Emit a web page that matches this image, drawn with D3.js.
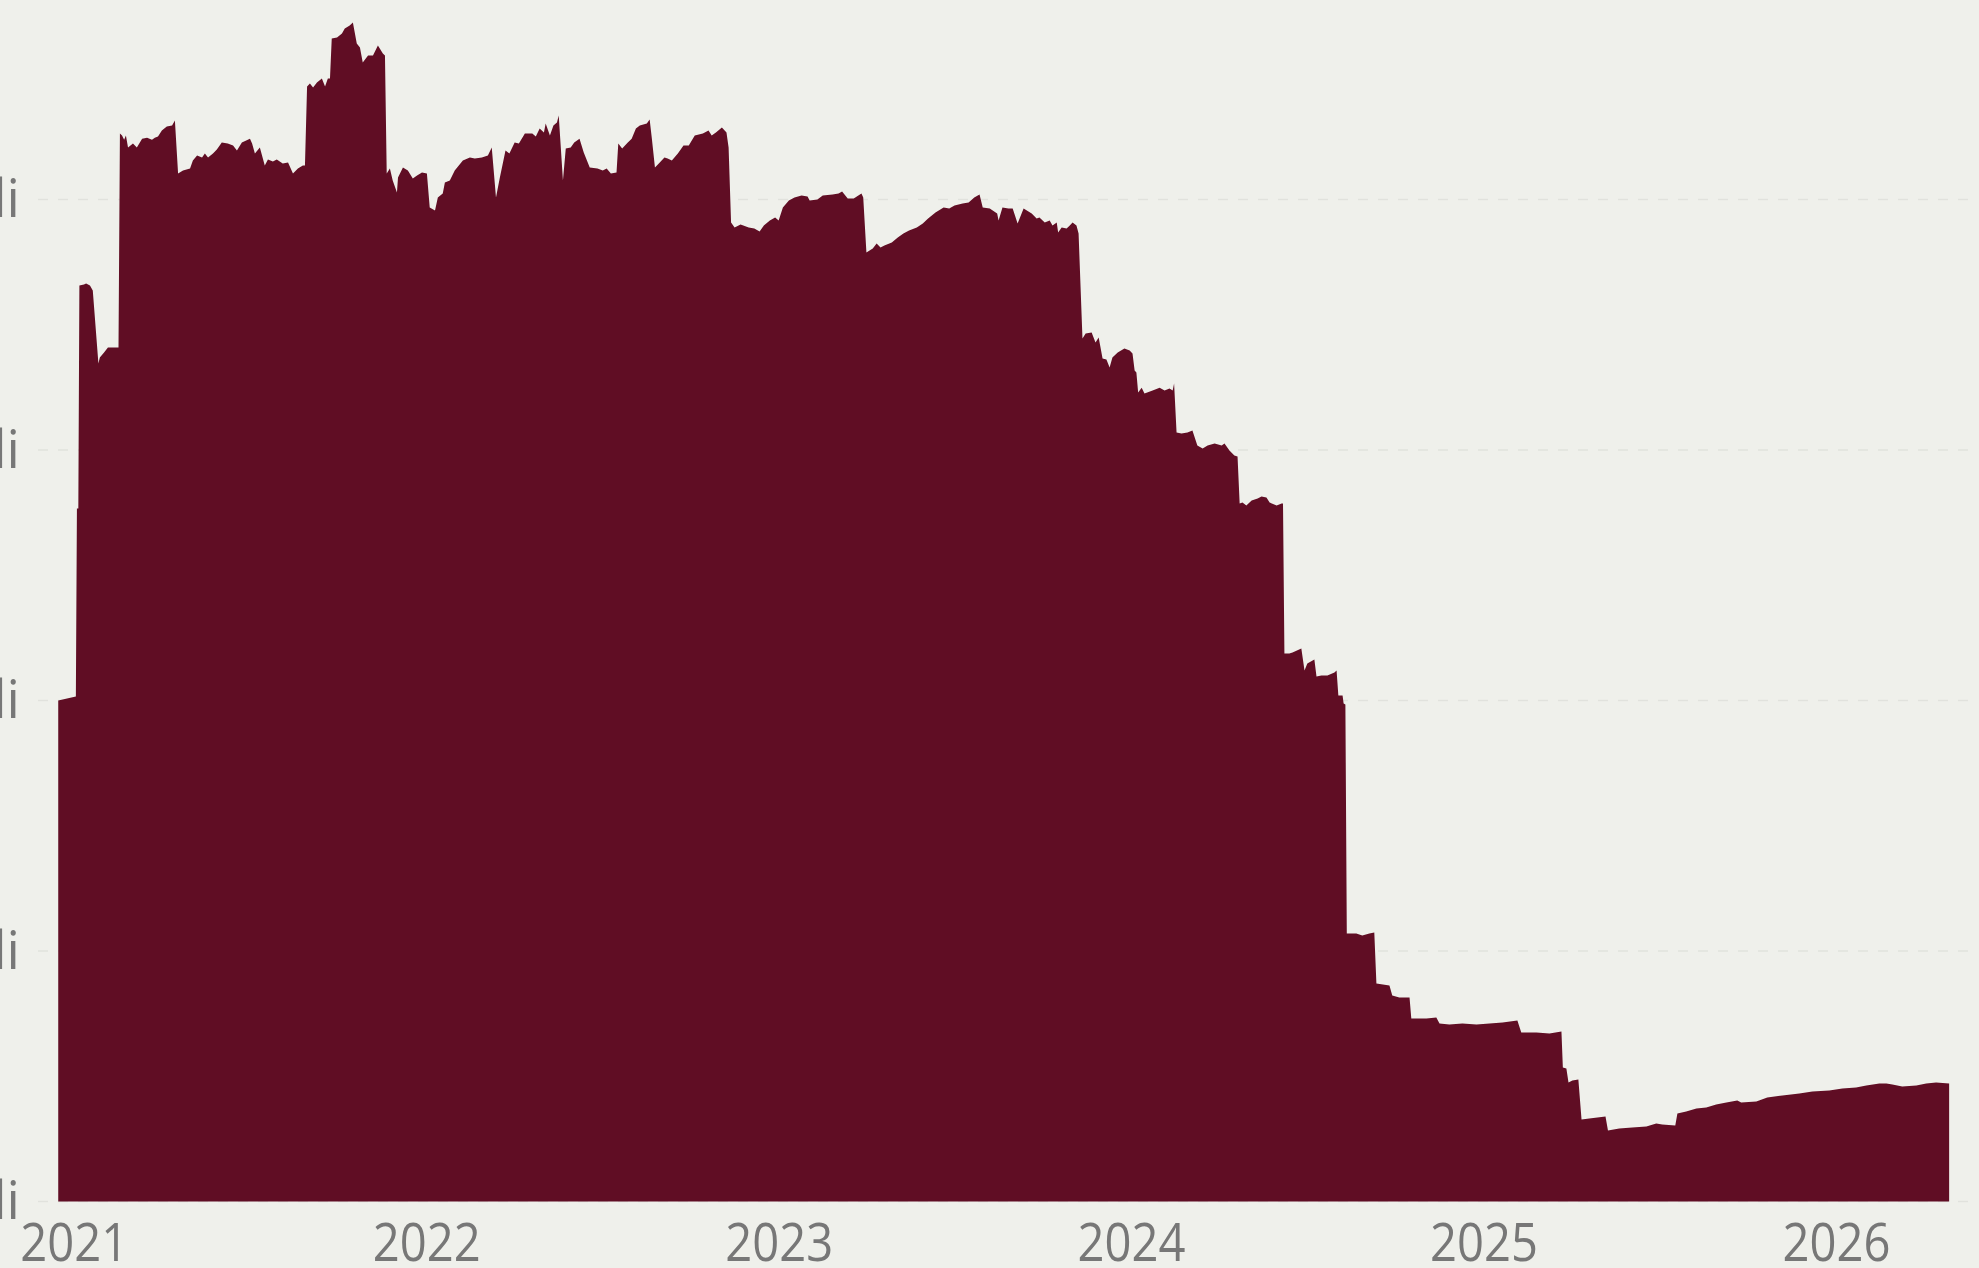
<!DOCTYPE html>
<html>
<head>
<meta charset="utf-8">
<script src="https://cdn.jsdelivr.net/npm/d3@7"></script>
<style>
  html, body { margin: 0; padding: 0; background: #eff0eb; }
  svg { display: block; }
</style>
</head>
<body>
<svg id="chart" width="1979" height="1268"></svg>
<script>
// ---- data (decimal years, values) ----
const dates = [
2020.956,2021.006,2021.009,2021.013,2021.016,2021.029,2021.035,2021.046,2021.054,2021.070,
2021.074,2021.086,2021.097,2021.127,2021.131,2021.137,2021.143,2021.148,2021.154,2021.168,
2021.179,2021.194,2021.208,2021.222,2021.230,2021.239,2021.250,2021.264,2021.279,2021.287,
2021.296,2021.310,2021.330,2021.338,2021.350,2021.364,2021.372,2021.381,2021.395,2021.406,
2021.420,2021.437,2021.452,2021.463,2021.477,2021.500,2021.506,2021.514,2021.528,2021.542,
2021.551,2021.565,2021.576,2021.593,2021.608,2021.622,2021.636,2021.650,2021.656,2021.662,
2021.670,2021.679,2021.690,2021.704,2021.713,2021.721,2021.727,2021.732,2021.747,2021.761,
2021.769,2021.783,2021.792,2021.803,2021.812,2021.820,2021.835,2021.849,2021.863,2021.877,
2021.883,2021.888,2021.897,2021.905,2021.917,2021.920,2021.934,2021.948,2021.962,2021.974,
2021.988,2022.002,2022.010,2022.025,2022.033,2022.047,2022.053,2022.067,2022.081,2022.104,
2022.124,2022.138,2022.158,2022.175,2022.186,2022.198,2022.209,2022.225,2022.236,2022.251,
2022.263,2022.280,2022.301,2022.311,2022.322,2022.334,2022.339,2022.351,2022.361,2022.371,
2022.376,2022.388,2022.396,2022.410,2022.420,2022.435,2022.447,2022.464,2022.486,2022.501,
2022.512,2022.524,2022.540,2022.545,2022.556,2022.572,2022.583,2022.595,2022.606,2022.626,
2022.634,2022.640,2022.649,2022.660,2022.676,2022.685,2022.697,2022.714,2022.730,2022.745,
2022.762,2022.785,2022.801,2022.810,2022.822,2022.839,2022.852,2022.858,2022.865,2022.875,
2022.892,2022.915,2022.931,2022.946,2022.958,2022.975,2022.990,2023.000,2023.012,2023.029,
2023.045,2023.065,2023.082,2023.088,2023.110,2023.125,2023.153,2023.170,2023.180,2023.196,
2023.213,2023.235,2023.240,2023.249,2023.267,2023.278,2023.289,2023.300,2023.321,2023.338,
2023.354,2023.370,2023.392,2023.409,2023.424,2023.445,2023.468,2023.484,2023.499,2023.522,
2023.539,2023.555,2023.570,2023.579,2023.599,2023.620,2023.624,2023.635,2023.652,2023.664,
2023.678,2023.695,2023.718,2023.732,2023.740,2023.755,2023.769,2023.777,2023.789,2023.793,
2023.803,2023.817,2023.826,2023.834,2023.845,2023.851,2023.862,2023.871,2023.888,2023.899,
2023.908,2023.919,2023.930,2023.939,2023.947,2023.962,2023.981,2023.996,2024.004,2024.010,
2024.015,2024.020,2024.030,2024.038,2024.061,2024.081,2024.095,2024.109,2024.118,2024.122,
2024.129,2024.143,2024.160,2024.174,2024.188,2024.203,2024.217,2024.237,2024.257,2024.265,
2024.279,2024.293,2024.302,2024.308,2024.316,2024.327,2024.342,2024.359,2024.370,2024.384,
2024.393,2024.413,2024.427,2024.431,2024.435,2024.449,2024.458,2024.483,2024.492,2024.500,
2024.520,2024.526,2024.540,2024.557,2024.577,2024.583,2024.588,2024.600,2024.603,2024.608,
2024.612,2024.639,2024.656,2024.676,2024.690,2024.696,2024.733,2024.741,2024.761,2024.790,
2024.795,2024.838,2024.866,2024.875,2024.903,2024.940,2024.980,2025.017,2025.054,2025.096,
2025.107,2025.150,2025.187,2025.221,2025.225,2025.235,2025.241,2025.252,2025.269,2025.278,
2025.300,2025.346,2025.353,2025.385,2025.422,2025.462,2025.490,2025.507,2025.544,2025.550,
2025.575,2025.604,2025.632,2025.660,2025.689,2025.720,2025.731,2025.774,2025.805,2025.848,
2025.896,2025.933,2025.981,2026.018,2026.057,2026.086,2026.123,2026.143,2026.160,2026.188,
2026.228,2026.256,2026.284,2026.321
];
const values = [
200.0,201.6,276.6,276.6,365.7,366.1,366.5,365.7,363.7,334.5,
336.9,338.9,340.9,340.9,426.3,425.5,423.9,425.5,420.8,422.4,
420.8,424.3,424.7,423.9,424.7,425.1,427.5,429.1,429.5,431.5,
410.4,411.6,412.4,415.6,417.6,416.8,418.4,416.8,418.4,420.0,
422.8,422.4,421.6,419.6,422.8,424.3,422.4,418.4,420.8,413.6,
416.0,415.2,416.0,414.4,414.8,410.4,412.4,413.6,413.6,445.1,
446.3,444.7,446.7,448.3,445.1,448.3,448.3,464.3,464.7,466.3,
468.3,469.5,470.7,462.3,460.7,454.7,457.5,457.5,461.5,458.3,
457.5,410.4,412.4,407.6,402.8,408.8,412.8,411.6,408.4,409.6,
410.8,410.4,396.8,395.6,400.8,402.4,406.8,407.6,411.6,415.6,
416.8,416.4,416.8,417.6,420.8,400.8,408.8,419.6,418.4,422.8,
422.4,426.3,426.3,425.1,428.3,426.7,430.3,425.5,429.5,430.7,
433.5,407.6,420.4,420.8,422.8,424.3,418.8,412.8,412.4,411.6,
412.4,410.4,410.8,422.4,420.4,422.8,424.3,428.3,429.5,430.3,
431.9,424.7,412.8,414.4,416.8,416.4,415.6,418.4,421.6,421.6,
425.5,426.3,427.5,425.5,426.7,428.7,426.7,420.8,390.8,388.8,
390.0,388.8,388.4,387.2,389.6,391.6,392.8,391.6,396.8,399.6,
400.8,401.6,401.2,399.6,400.0,401.6,402.0,402.4,403.2,400.4,
400.4,402.4,400.8,378.8,380.4,382.4,380.8,381.6,382.8,384.8,
386.4,387.6,388.8,390.4,392.4,394.8,396.8,396.4,397.6,398.4,
398.8,400.8,402.0,396.8,396.4,394.4,391.6,396.8,396.4,396.4,
390.4,396.4,394.4,392.4,392.8,390.8,391.6,389.6,390.8,386.8,
388.8,388.4,389.6,390.8,389.6,386.4,344.5,346.5,346.9,342.9,
344.9,336.5,336.1,332.9,336.9,338.9,340.5,339.7,338.5,331.7,
330.9,323.0,324.9,322.6,323.8,324.9,323.8,324.6,323.8,326.5,
307.0,306.6,307.0,307.8,301.8,300.6,301.8,302.6,301.8,302.6,
299.8,297.8,297.4,278.6,279.0,277.8,279.8,280.6,281.4,281.0,
279.0,277.8,278.6,278.6,218.8,218.8,219.2,220.8,212.0,214.8,
216.4,209.6,210.0,210.0,211.2,212.0,202.0,202.0,198.8,198.4,
107.0,107.0,106.2,107.0,107.4,87.0,86.2,82.2,81.4,81.4,
73.1,73.1,73.5,71.1,70.7,71.1,70.7,71.1,71.5,72.3,
67.5,67.5,67.1,67.9,53.5,53.1,47.5,48.3,48.7,32.7,
33.1,33.9,28.3,29.1,29.5,29.9,31.1,30.7,30.3,35.1,
35.9,37.1,37.5,38.7,39.5,40.3,39.5,39.9,41.5,42.3,
43.1,43.9,44.3,45.1,45.5,46.3,47.1,47.1,46.7,45.9,
46.3,47.1,47.5,47.1
];
const xTicks = [2021, 2022, 2023, 2024, 2025, 2026];
const yTicks = [0, 100, 200, 300, 400];
const yTickLabels = ["li", "li", "li", "li", "li"];

// ---- drawing ----
const svg = d3.select("#chart");
const W = 1979, H = 1268;

const x = d3.scaleLinear().domain([2021, 2026]).range([73.75, 1836]);
const y = d3.scaleLinear().domain([0, 400]).range([1201.5, 199.5]);

const data = dates.map((d, i) => ({ t: d, v: values[i] }));

svg.append("rect").attr("width", W).attr("height", H).attr("fill", "#eff0eb");

// gridlines
const grid = svg.append("g");
grid.selectAll("line").data(yTicks).join("line")
  .attr("x1", 38).attr("x2", 1968)
  .attr("y1", d => y(d)).attr("y2", d => y(d))
  .attr("stroke", "#e1e2dd").attr("stroke-width", 1.5)
  .attr("stroke-dasharray", "10,10");

// area
const area = d3.area()
  .x(d => x(d.t))
  .y0(y(0))
  .y1(d => y(d.v))
  .curve(d3.curveLinear);

svg.append("path").datum(data)
  .attr("d", area)
  .attr("fill", "#600d24");

// y axis labels (clipped at the left edge)
const yAxis = d3.axisLeft(y).tickValues(yTicks)
  .tickFormat((d, i) => yTickLabels[i]).tickSize(0).tickPadding(0);
const gy = svg.append("g").attr("transform", "translate(20,0)").call(yAxis);
gy.select(".domain").remove();
gy.selectAll("text")
  .attr("font-family", "'Open Sans', 'Noto Sans', sans-serif")
  .attr("font-size", 53)
  .attr("fill", "#777777")
  .attr("dy", null)
  .attr("y", 17)
  .attr("text-anchor", "end");

// x axis labels
const xAxis = d3.axisBottom(x).tickValues(xTicks)
  .tickFormat(d3.format("d")).tickSize(0).tickPadding(0);
const gx = svg.append("g").attr("transform", "translate(0,1261)").call(xAxis);
gx.select(".domain").remove();
gx.selectAll("text")
  .attr("font-family", "'Open Sans', 'Noto Sans', sans-serif")
  .attr("font-size", 53)
  .attr("fill", "#777777")
  .attr("dy", null)
  .attr("y", 0)
  .attr("textLength", 108)
  .attr("lengthAdjust", "spacingAndGlyphs");
</script>
</body>
</html>
